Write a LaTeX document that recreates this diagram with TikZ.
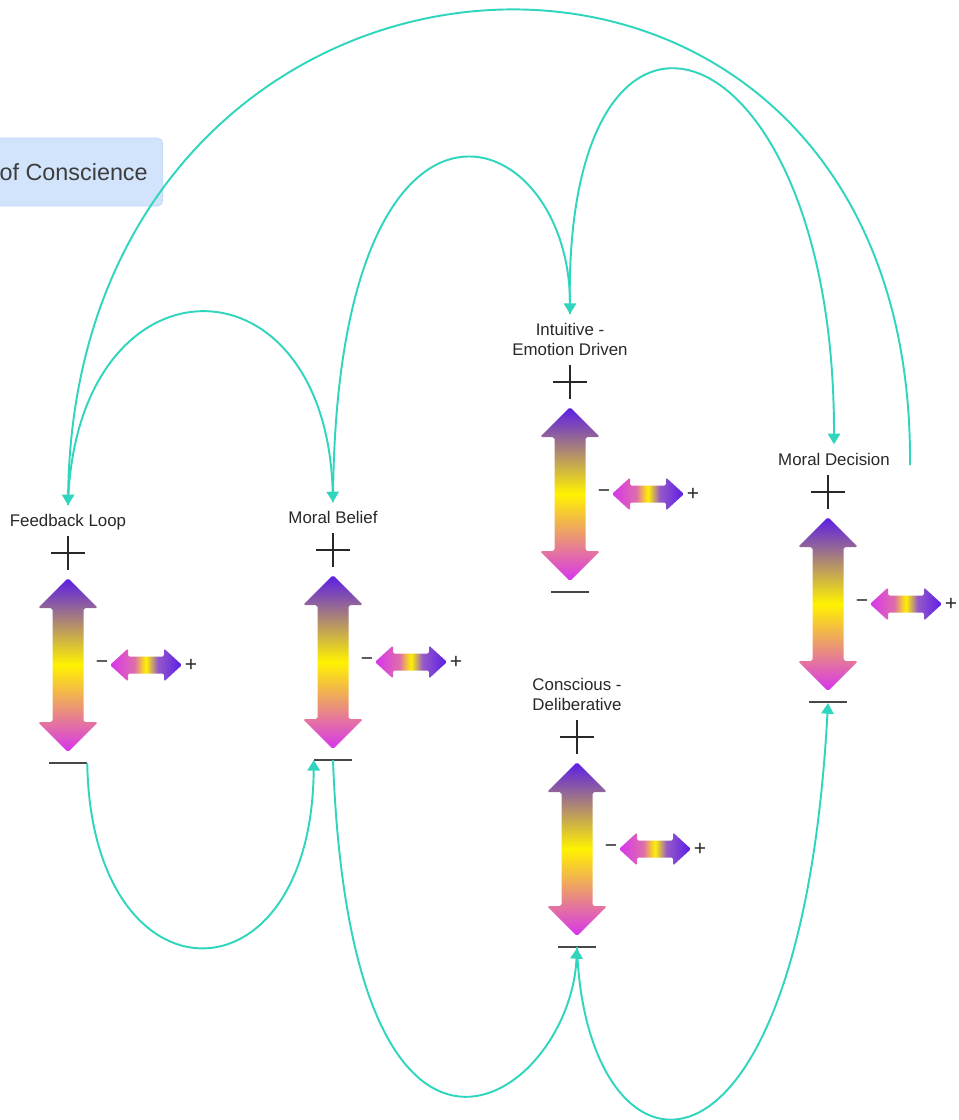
\documentclass[tikz,border=0pt]{standalone}
\usepackage{fontspec}
\setmainfont{Liberation Sans}
\usetikzlibrary{positioning,arrows.meta}

\definecolor{loopteal}{RGB}{47,213,188}
\definecolor{gaugeblue}{RGB}{90,28,232}
\definecolor{gaugeyellow}{RGB}{255,242,0}
\definecolor{gaugemagenta}{RGB}{214,52,238}
\definecolor{gaugepink}{RGB}{222,110,170}
\definecolor{gaugeviolet}{RGB}{150,90,200}
\definecolor{titlefill}{RGB}{210,228,251}
\definecolor{titleedge}{RGB}{185,211,244}
\definecolor{inkgray}{RGB}{40,40,40}

\pgfdeclarehorizontalshading{smallgauge}{100bp}{color(0bp)=(gaugemagenta); color(25bp)=(gaugemagenta); color(42bp)=(gaugepink); color(50bp)=(gaugeyellow); color(58bp)=(gaugeviolet); color(75bp)=(gaugeblue); color(100bp)=(gaugeblue)}

\tikzset{
  conn/.style={draw=loopteal, line width=1.1pt, -{Triangle[width=7pt,length=6pt]}},
  lbl/.style={font=\fontsize{9.6}{11.5}\selectfont, text=inkgray, align=center, inner xsep=0pt, inner ysep=5pt, text depth=0pt},
  plusmark/.style={minimum size=19.3pt, inner sep=0pt, path picture={\draw[inkgray, line width=0.7pt] (path picture bounding box.north) -- (path picture bounding box.south) (path picture bounding box.west) -- (path picture bounding box.east);}},
  minusmark/.style={minimum width=21.5pt, minimum height=0.9pt, inner sep=0pt, fill=inkgray!85},
  bigbar/.style={top color=gaugeblue, bottom color=gaugemagenta, middle color=gaugeyellow, rounded corners=1pt},
  smallbar/.style={shading=smallgauge, rounded corners=0.8pt},
  sign/.style={font=\fontsize{12}{14}\selectfont, text=inkgray, inner sep=0pt},
}

\newcommand{\gauge}[3]{%
  \node[plusmark] (#1-plus) at (#2,#3-25) {};
  \shade[bigbar] (#2,#3) -- (#2+30,#3+30) -- (#2+15.5,#3+30) -- (#2+15.5,#3+144) -- (#2+30,#3+144) -- (#2,#3+174) -- (#2-30,#3+144) -- (#2-15.5,#3+144) -- (#2-15.5,#3+30) -- (#2-30,#3+30) -- cycle;
  \shade[smallbar] (#2+42,#3+87) -- (#2+60,#3+70.5) -- (#2+60,#3+78.5) -- (#2+96,#3+78.5) -- (#2+96,#3+70.5) -- (#2+114,#3+87) -- (#2+96,#3+103.5) -- (#2+96,#3+95.5) -- (#2+60,#3+95.5) -- (#2+60,#3+103.5) -- cycle;
  \node[sign] (#1-lo) at (#2+34,#3+87) {−};
  \node[sign] (#1-hi) at (#2+123,#3+87) {+};
  \node[minusmark] (#1-minus) at (#2,#3+185) {};
}

\begin{document}
\begin{tikzpicture}[x=0.02cm,y=-0.02cm]
\useasboundingbox (0,0) rectangle (959,1120);

\node[draw=titleedge, fill=titlefill, rounded corners=3pt, font=\fontsize{13.3}{16}\selectfont, text=inkgray!90, minimum height=38.6pt, inner xsep=8.5pt, anchor=east] (title) at (163,172) {of Conscience};

\gauge{fl}{68}{578}
\gauge{mb}{333}{575}
\gauge{ie}{570}{407}
\gauge{cd}{577}{762}
\gauge{md}{828}{517}

\node[lbl, above=0pt of fl-plus] (fl-label) {Feedback Loop};
\node[lbl, above=0pt of mb-plus] (mb-label) {Moral Belief};
\node[lbl, above=0pt of ie-plus] (ie-label) {Intuitive -\\Emotion Driven};
\node[lbl, above=0pt of cd-plus] (cd-label) {Conscious -\\Deliberative};
\node[lbl, above=0pt of md-plus, xshift=3.4pt] (md-label) {Moral Decision};
\coordinate (md-out) at (910,465);

\draw[conn] (fl-minus.east) .. controls +(4,246) and +(-2,249) .. (mb-minus.west);
\draw[conn] (mb-minus.center) .. controls +(18,490) and +(-7,153) .. (cd-minus.south);
\draw[conn] (cd-minus.center) .. controls +(8,248) and +(-28,520) .. (md-minus.south);
\draw[conn] (fl-label.north) .. controls +(7,-255) and +(-7,-255) .. (mb-label.north);
\draw[conn] (mb-label.north) .. controls +(2,-464) and +(0,-198) .. (ie-label.north);
\draw[conn] (ie-label.north) .. controls +(-10,-386) and +(1,-426) .. (md-label.north);
\draw[conn] (md-out) .. controls +(5,-635) and +(8,-629) .. (fl-label.north);
\end{tikzpicture}
\end{document}
